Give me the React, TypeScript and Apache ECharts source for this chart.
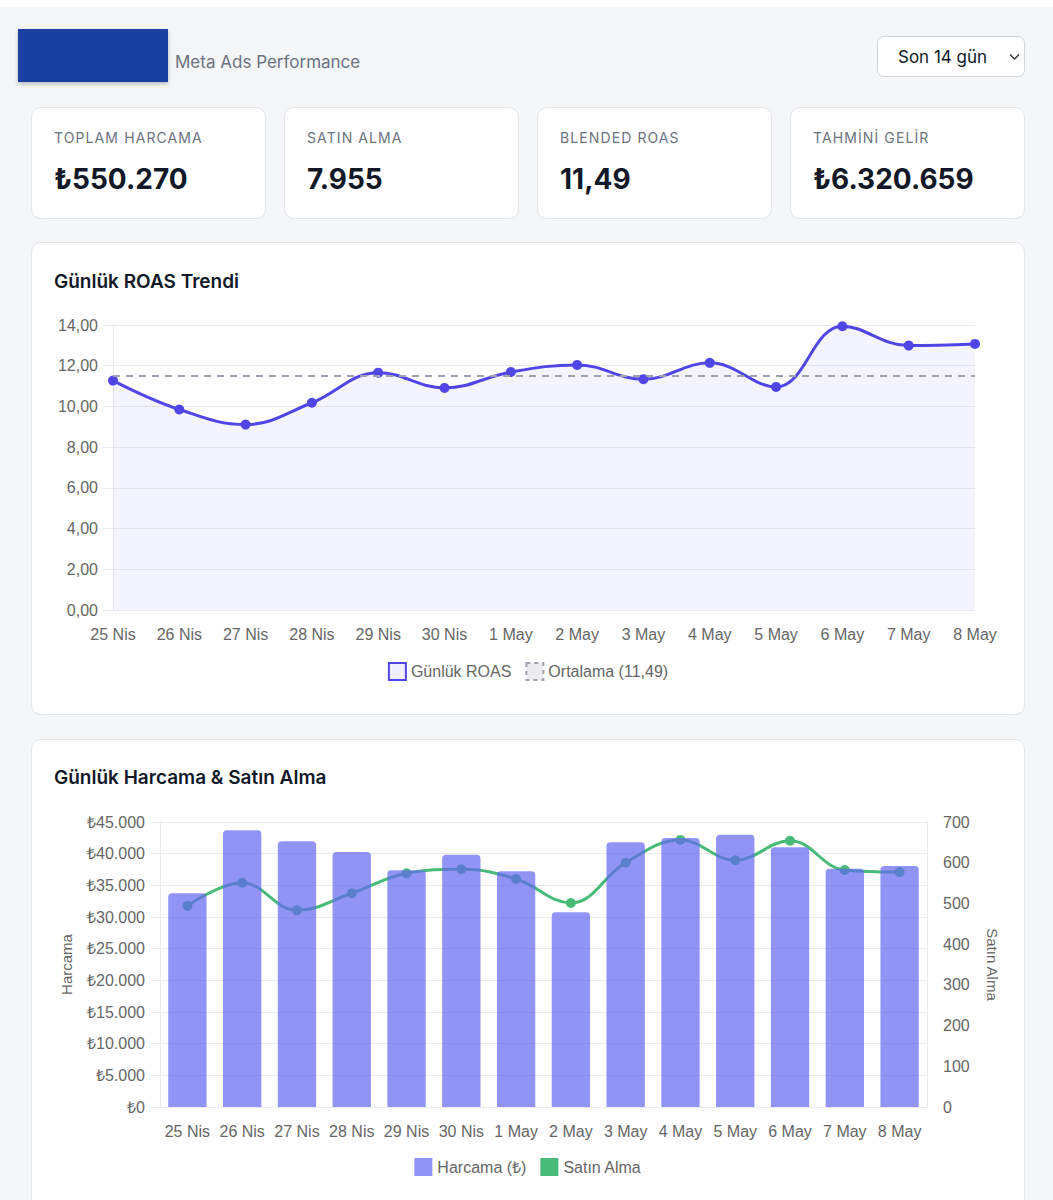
import React, { useEffect, useRef } from "react";
import * as echarts from "echarts";

const dates = ["25 Nis", "26 Nis", "27 Nis", "28 Nis", "29 Nis", "30 Nis", "1 May", "2 May", "3 May", "4 May", "5 May", "6 May", "7 May", "8 May"];
const roasValues = [11.27, 9.85, 9.11, 10.18, 11.66, 10.91, 11.69, 12.04, 11.34, 12.14, 10.96, 13.94, 12.99, 13.07];
const avgRoas = 11.49;
const spendValues = [33740, 43690, 41950, 40260, 37370, 39840, 37210, 30740, 41790, 42470, 42990, 41000, 37630, 38050];
const purchaseValues = [494, 551, 483, 525, 574, 584, 560, 501, 600, 656, 606, 654, 582, 577];
const kpiLabels = ["TOPLAM HARCAMA", "SATIN ALMA", "BLENDED ROAS", "TAHMİNİ GELİR"];
const kpiValues = ["₺550.270", "7.955", "11,49", "₺6.320.659"];
const roasTicks = { min: 0, max: 14, interval: 2 };
const spendTicks = { min: 0, max: 45000, interval: 5000 };
const purchaseTicks = { min: 0, max: 700, interval: 100 };

const CHART_FONT = "'Liberation Sans', Arial, Helvetica, sans-serif";
const GRID = "#ebebef";
const TXT = "#666";
const INDIGO = "#4f46e5";
const GREEN = "#48bb78";
const BAR = "rgba(99,102,241,0.7)";

const thousands = (v: number) => String(v).replace(/\B(?=(\d{3})+(?!\d))/g, ".");

function EChart({ option, style }: { option: any; style: React.CSSProperties }) {
  const ref = useRef<HTMLDivElement>(null);
  useEffect(() => {
    if (!ref.current) return;
    const chart = echarts.init(ref.current, undefined, { renderer: "svg" });
    chart.setOption(option);
    return () => chart.dispose();
  }, [option]);
  return <div ref={ref} style={style} />;
}

const roasOption = {
  animation: false,
  textStyle: { fontFamily: CHART_FONT },
  grid: { left: 82, right: 50, top: 25, height: 285 },
  xAxis: {
    type: "category",
    data: dates,
    boundaryGap: false,
    axisLine: { lineStyle: { color: GRID } },
    axisTick: { show: false },
    axisLabel: { color: TXT, fontSize: 16, margin: 16, interval: 0 },
    splitLine: { show: false },
  },
  yAxis: {
    type: "value",
    ...roasTicks,
    axisLabel: { color: TXT, fontSize: 16, margin: 15, formatter: (v: number) => v.toFixed(2).replace(".", ",") },
    axisLine: { show: true, lineStyle: { color: GRID } },
    axisTick: { show: true, length: 10, lineStyle: { color: GRID } },
    splitLine: { lineStyle: { color: GRID } },
  },
  legend: {
    top: 357,
    left: "center",
    icon: "rect",
    itemWidth: 17,
    itemHeight: 17,
    itemGap: 14,
    textStyle: { fontSize: 16, color: TXT, fontFamily: CHART_FONT },
    data: [
      { name: "Günlük ROAS", itemStyle: { color: "rgba(99,102,241,0.1)", borderColor: INDIGO, borderWidth: 2 } },
      { name: "Ortalama (11,49)", itemStyle: { color: "rgba(200,200,205,0.35)", borderColor: "#9ca3af", borderWidth: 2, borderType: [4, 4] } },
    ],
  },
  series: [
    {
      name: "Ortalama (11,49)",
      type: "line",
      data: [],
      itemStyle: { color: "#9ca3af" },
      markLine: {
        silent: true,
        symbol: "none",
        label: { show: false },
        lineStyle: { color: "#9ca3af", width: 2, type: [7, 6] },
        data: [{ yAxis: avgRoas }],
      },
    },
    {
      name: "Günlük ROAS",
      type: "line",
      data: roasValues,
      smooth: 0.4,
      symbol: "circle",
      symbolSize: 10,
      z: 3,
      lineStyle: { color: INDIGO, width: 3 },
      itemStyle: { color: INDIGO },
      areaStyle: { color: "rgba(99,102,241,0.1)" },
    },
  ],
};

const spendOption = {
  animation: false,
  textStyle: { fontFamily: CHART_FONT },
  grid: { left: 129, right: 98, top: 22, height: 285 },
  xAxis: {
    type: "category",
    data: dates,
    boundaryGap: true,
    axisLine: { lineStyle: { color: GRID } },
    axisTick: { show: false },
    axisLabel: { color: TXT, fontSize: 16, margin: 16, interval: 0 },
    splitLine: { show: false },
  },
  yAxis: [
    {
      type: "value",
      ...spendTicks,
      name: "Harcama",
      nameLocation: "middle",
      nameGap: 86,
      nameTextStyle: { color: TXT, fontSize: 15, fontFamily: CHART_FONT },
      axisLabel: { color: TXT, fontSize: 16, margin: 15, formatter: (v: number) => "₺" + thousands(v) },
      axisLine: { show: true, lineStyle: { color: GRID } },
      axisTick: { show: true, length: 10, lineStyle: { color: GRID } },
      splitLine: { lineStyle: { color: GRID } },
    },
    {
      type: "value",
      ...purchaseTicks,
      position: "right",
      name: "Satın Alma",
      nameLocation: "middle",
      nameGap: 58,
      nameRotate: -90,
      nameTextStyle: { color: TXT, fontSize: 15, fontFamily: CHART_FONT },
      axisLabel: { color: TXT, fontSize: 16, margin: 16 },
      axisLine: { show: true, lineStyle: { color: GRID } },
      axisTick: { show: false },
      splitLine: { show: false },
    },
  ],
  legend: {
    top: 353,
    left: "center",
    icon: "rect",
    itemWidth: 18,
    itemHeight: 18,
    itemGap: 14,
    textStyle: { fontSize: 16, color: TXT, fontFamily: CHART_FONT },
    data: ["Harcama (₺)", "Satın Alma"],
  },
  series: [
    {
      name: "Satın Alma",
      type: "line",
      yAxisIndex: 1,
      data: purchaseValues,
      smooth: 0.4,
      symbol: "circle",
      symbolSize: 10,
      z: 2,
      lineStyle: { color: GREEN, width: 3 },
      itemStyle: { color: GREEN },
    },
    {
      name: "Harcama (₺)",
      type: "bar",
      yAxisIndex: 0,
      data: spendValues,
      barCategoryGap: "30%",
      z: 3,
      itemStyle: { color: BAR, borderRadius: [4, 4, 0, 0] },
    },
  ],
};

const kpiLefts = [31, 284, 537, 790];

export default function App() {
  const card: React.CSSProperties = {
    position: "absolute",
    background: "#fff",
    border: "1px solid #e3e5e9",
    borderRadius: 10,
    boxSizing: "border-box",
  };
  return (
    <div
      style={{
        position: "absolute",
        left: 0,
        top: 0,
        width: 1053,
        height: 1200,
        overflow: "hidden",
        background: "#fff",
        fontFamily: "Inter, 'Noto Sans', sans-serif",
      }}
    >
      <div style={{ position: "absolute", left: 0, top: 7, width: 1053, height: 1193, background: "#f5f6f8" }} />
      {/* header */}
      <div
        style={{
          position: "absolute",
          left: 18,
          top: 29,
          width: 150,
          height: 53,
          background: "#1b40a4",
          boxShadow: "0 2px 4px rgba(0,0,0,0.25)",
        }}
      />
      <div style={{ position: "absolute", left: 175, top: 51, fontSize: 17, lineHeight: "22px", color: "#6b7280" }}>
        Meta Ads Performance
      </div>
      <div
        style={{
          position: "absolute",
          left: 877,
          top: 36,
          width: 148,
          height: 41,
          background: "#fff",
          border: "1px solid #d1d5db",
          borderRadius: 7,
          boxSizing: "border-box",
        }}
      >
        <div style={{ position: "absolute", left: 20, top: 9, fontSize: 17, lineHeight: "22px", color: "#111827" }}>Son 14 gün</div>
        <svg style={{ position: "absolute", left: 131, top: 16 }} width="11" height="8" viewBox="0 0 11 8">
          <polyline points="1,1.5 5.5,6 10,1.5" fill="none" stroke="#333" strokeWidth="1.3" />
        </svg>
      </div>
      {/* KPI cards */}
      {kpiLabels.map((lab, i) => (
        <div key={lab} style={{ ...card, left: kpiLefts[i], top: 107, width: 235, height: 112 }}>
          <div
            style={{
              position: "absolute",
              left: 22,
              top: 21,
              fontSize: 14,
              lineHeight: "18px",
              letterSpacing: 1.1,
              color: "#6b7280",
            }}
          >
            {lab}
          </div>
          <div
            style={{
              position: "absolute",
              left: 22,
              top: 54,
              fontSize: 28,
              lineHeight: "34px",
              fontWeight: 700,
              color: "#111827",
            }}
          >
            {kpiValues[i]}
          </div>
        </div>
      ))}
      {/* ROAS card */}
      <div style={{ ...card, left: 31, top: 242, width: 994, height: 473 }}>
        <div style={{ position: "absolute", left: 22, top: 27, fontSize: 19, lineHeight: "24px", fontWeight: 600, color: "#111827" }}>
          Günlük ROAS Trendi
        </div>
      </div>
      <EChart option={roasOption} style={{ position: "absolute", left: 31, top: 300, width: 994, height: 400 }} />
      {/* Spend card */}
      <div style={{ ...card, left: 31, top: 739, width: 994, height: 520 }}>
        <div style={{ position: "absolute", left: 22, top: 26, fontSize: 19, lineHeight: "24px", fontWeight: 600, color: "#111827" }}>
          Günlük Harcama &amp; Satın Alma
        </div>
      </div>
      <EChart option={spendOption} style={{ position: "absolute", left: 31, top: 800, width: 994, height: 400 }} />
    </div>
  );
}
